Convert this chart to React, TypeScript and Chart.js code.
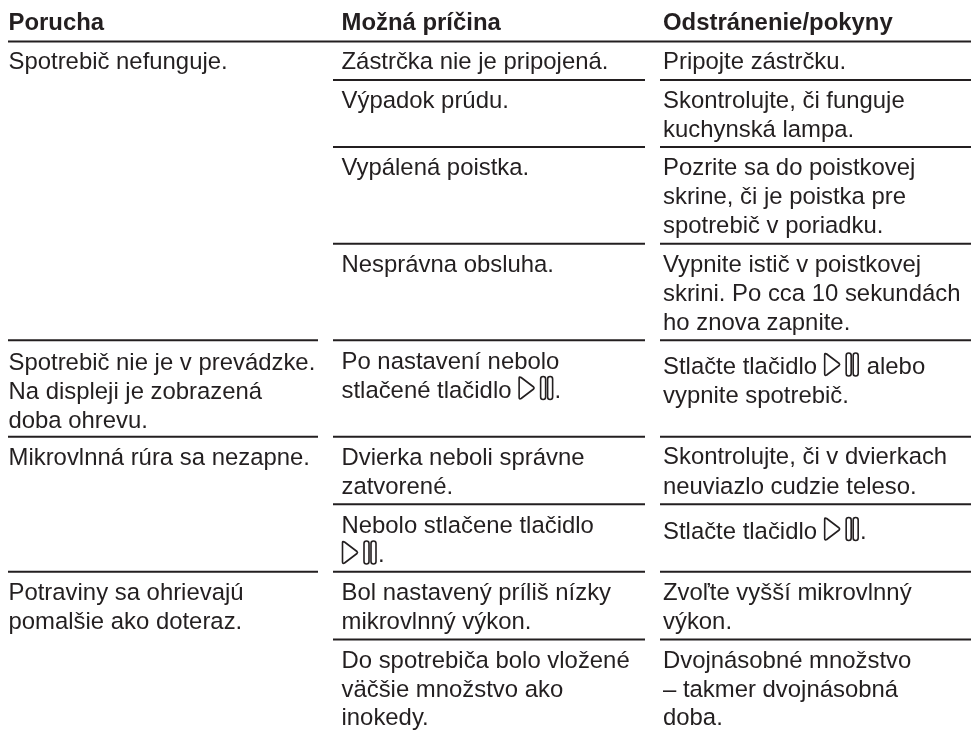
import React, { useEffect, useRef } from "react";
import { Chart, registerables } from "chart.js";

Chart.register(...registerables);

const ICON = "{icon}";
const INK = "#231f20";
const FONT_FAMILY = '"Liberation Sans", Arial, sans-serif';

// [column x, baseline y, text]
type Cell = [number, number, string];

const headerCells: Cell[] = [
  [8.5, 29.7, "Porucha"],
  [341.5, 29.7, "Možná príčina"],
  [663, 29.7, "Odstránenie/pokyny"],
];

const faultCells: Cell[] = [
  [8.5, 68.5, "Spotrebič nefunguje."],
  [8.5, 370, "Spotrebič nie je v prevádzke."],
  [8.5, 399, "Na displeji je zobrazená"],
  [8.5, 427.5, "doba ohrevu."],
  [8.5, 464.5, "Mikrovlnná rúra sa nezapne."],
  [8.5, 600, "Potraviny sa ohrievajú"],
  [8.5, 629, "pomalšie ako doteraz."],
];

const causeCells: Cell[] = [
  [341.5, 68.5, "Zástrčka nie je pripojená."],
  [341.5, 107.5, "Výpadok prúdu."],
  [341.5, 175, "Vypálená poistka."],
  [341.5, 272, "Nesprávna obsluha."],
  [341.5, 368.5, "Po nastavení nebolo"],
  [341.5, 397.5, `stlačené tlačidlo ${ICON}.`],
  [341.5, 464.5, "Dvierka neboli správne"],
  [341.5, 494, "zatvorené."],
  [341.5, 533, "Nebolo stlačene tlačidlo"],
  [341.5, 562, `${ICON}.`],
  [341.5, 600, "Bol nastavený príliš nízky"],
  [341.5, 629, "mikrovlnný výkon."],
  [341.5, 668, "Do spotrebiča bolo vložené"],
  [341.5, 697, "väčšie množstvo ako"],
  [341.5, 725, "inokedy."],
];

const remedyCells: Cell[] = [
  [663, 68.5, "Pripojte zástrčku."],
  [663, 107.5, "Skontrolujte, či funguje"],
  [663, 136.5, "kuchynská lampa."],
  [663, 175, "Pozrite sa do poistkovej"],
  [663, 204, "skrine, či je poistka pre"],
  [663, 232.5, "spotrebič v poriadku."],
  [663, 272, "Vypnite istič v poistkovej"],
  [663, 301, "skrini. Po cca 10 sekundách"],
  [663, 329.5, "ho znova zapnite."],
  [663, 374, `Stlačte tlačidlo ${ICON} alebo`],
  [663, 403, "vypnite spotrebič."],
  [663, 464, "Skontrolujte, či v dvierkach"],
  [663, 493.5, "neuviazlo cudzie teleso."],
  [663, 538.5, `Stlačte tlačidlo ${ICON}.`],
  [663, 599.5, "Zvoľte vyšší mikrovlnný"],
  [663, 628.5, "výkon."],
  [663, 667.5, "Dvojnásobné množstvo"],
  [663, 696.5, "– takmer dvojnásobná"],
  [663, 725, "doba."],
];

const headerRuleY = [41.5];
const faultRuleY = [340.2, 436.7, 571.8];
const cellRuleY = [80, 147, 243.7, 340.2, 436.7, 504.2, 571.8, 639.5];

const headerSpan = [8, 971];
const faultSpan = [8, 318];
const causeSpan = [333, 645];
const remedySpan = [660, 971];

function ruleDatasets(ys: number[], span: number[], width: number) {
  return ys.map((y) => ({
    data: [
      { x: span[0], y },
      { x: span[1], y },
    ],
    showLine: true,
    borderColor: INK,
    borderWidth: width,
    pointRadius: 0,
    borderCapStyle: "butt" as const,
  }));
}

function drawIcon(ctx: CanvasRenderingContext2D, x: number, b: number) {
  ctx.save();
  ctx.strokeStyle = INK;
  ctx.lineWidth = 1.6;
  ctx.lineJoin = "round";
  ctx.beginPath();
  ctx.moveTo(x + 1, b - 19.5);
  ctx.quadraticCurveTo(x + 1, b - 21, x + 3, b - 20);
  ctx.lineTo(x + 15.5, b - 10.5);
  ctx.quadraticCurveTo(x + 16.5, b - 9.5, x + 15.5, b - 8.5);
  ctx.lineTo(x + 3, b + 1);
  ctx.quadraticCurveTo(x + 1, b + 2, x + 1, b);
  ctx.closePath();
  ctx.stroke();
  for (const bar of [22.5, 29.5]) {
    ctx.beginPath();
    ctx.roundRect(x + bar, b - 21, 5, 23, 2.5);
    ctx.stroke();
  }
  ctx.restore();
}

const ICON_ADVANCE = 36.4;
const FONT_SIZE = 23.9;

function drawCell(chart: any, cell: Cell, bold: boolean) {
  const { ctx, scales } = chart;
  let px = scales.x.getPixelForValue(cell[0]);
  const py = scales.y.getPixelForValue(cell[1]);
  ctx.font = `${bold ? "bold " : ""}${FONT_SIZE}px ${FONT_FAMILY}`;
  ctx.fillStyle = INK;
  ctx.textBaseline = "alphabetic";
  ctx.textAlign = "left";
  const parts = cell[2].split(ICON);
  parts.forEach((part, i) => {
    ctx.fillText(part, px, py);
    px += ctx.measureText(part).width;
    if (i < parts.length - 1) {
      drawIcon(ctx, px, py);
      px += ICON_ADVANCE;
    }
  });
}

const tablePlugin = {
  id: "tableText",
  afterDatasetsDraw(chart: any) {
    headerCells.forEach((c) => drawCell(chart, c, true));
    [...faultCells, ...causeCells, ...remedyCells].forEach((c) => drawCell(chart, c, false));
  },
};

export default function App() {
  const ref = useRef<HTMLCanvasElement>(null);
  useEffect(() => {
    document.body.style.margin = "0";
    document.body.style.background = "#fff";
    const chart = new Chart(ref.current!, {
      type: "scatter",
      data: {
        datasets: [
          ...ruleDatasets(headerRuleY, headerSpan, 2),
          ...ruleDatasets(faultRuleY, faultSpan, 2),
          ...ruleDatasets(cellRuleY, causeSpan, 2),
          ...ruleDatasets(cellRuleY, remedySpan, 2),
        ],
      },
      options: {
        animation: false,
        responsive: false,
        events: [],
        layout: { padding: 0 },
        plugins: { legend: { display: false }, tooltip: { enabled: false } },
        scales: {
          x: { type: "linear", min: 0, max: 971, display: false },
          y: { type: "linear", min: 0, max: 734, reverse: true, display: false },
        },
      },
      plugins: [tablePlugin],
    });
    return () => chart.destroy();
  }, []);
  return <canvas ref={ref} width={971} height={734} style={{ display: "block" }} />;
}
